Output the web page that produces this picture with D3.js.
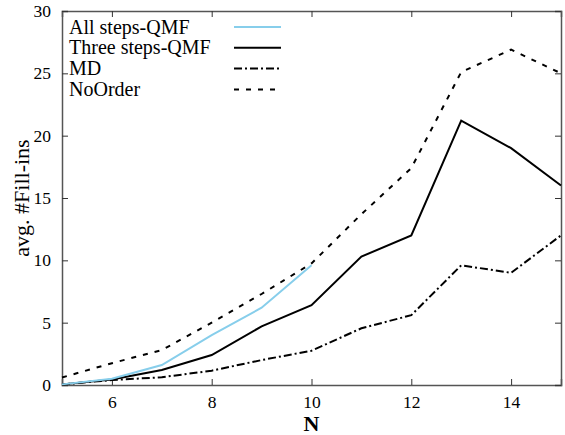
<!DOCTYPE html>
<meta charset="utf-8">
<style>
  body { margin: 0; background: #fff; }
</style>
<svg width="565" height="435" font-family="Liberation Serif"></svg>
<script src="https://d3js.org/d3.v7.min.js"></script>
<script>

var nValues = [5, 6, 7, 8, 9, 10, 11, 12, 13, 14, 15];
var allStepsQMF = [0.05, 0.5, 1.6, 4.0, 6.2, 9.6];
var threeStepsQMF = [0.05, 0.45, 1.2, 2.4, 4.7, 6.4, 10.3, 12.0, 21.2, 19.0, 16.0];
var md = [0.05, 0.4, 0.62, 1.15, 2.0, 2.75, 4.55, 5.6, 9.6, 9.0, 12.0];
var noOrder = [0.6, 1.75, 2.8, 5.0, 7.3, 9.75, 13.7, 17.4, 25.1, 26.9, 25.0];
var xTicks = [6, 8, 10, 12, 14];
var yTicks = [0, 5, 10, 15, 20, 25, 30];

var series = [
  {name: "All steps-QMF", values: allStepsQMF, color: "#87ceeb", dash: null},
  {name: "Three steps-QMF", values: threeStepsQMF, color: "#000", dash: null},
  {name: "MD", values: md, color: "#000", dash: "8,3,2,3"},
  {name: "NoOrder", values: noOrder, color: "#000", dash: "5,7"}
];

var font = "Liberation Serif";

var svg = d3.select("svg"),
    margin = {top: 11, right: 4, bottom: 50, left: 62},
    width = +svg.attr("width") - margin.left - margin.right,
    height = +svg.attr("height") - margin.top - margin.bottom;

var x = d3.scaleLinear().domain([5, 15]).range([0, width]);
var y = d3.scaleLinear().domain([0, 30]).range([height, 0]);

var g = svg.append("g").attr("transform", "translate(" + margin.left + "," + margin.top + ")");

// axes, with mirrored ticks on top and right
g.append("g")
    .attr("transform", "translate(0," + height + ")")
    .call(d3.axisBottom(x).tickValues(xTicks).tickSize(-6).tickPadding(11))
    .call(styleAxis);
g.append("g")
    .call(d3.axisTop(x).tickValues(xTicks).tickSize(-6).tickFormat(""))
    .call(styleAxis);
g.append("g")
    .call(d3.axisLeft(y).tickValues(yTicks).tickSize(-6).tickPadding(11))
    .call(styleAxis);
g.append("g")
    .attr("transform", "translate(" + width + ",0)")
    .call(d3.axisRight(y).tickValues(yTicks).tickSize(-6).tickFormat(""))
    .call(styleAxis);

function styleAxis(sel) {
  sel.attr("font-family", font).attr("font-size", 17.5);
  sel.select(".domain").attr("stroke", "#555").attr("stroke-width", 1.5);
  sel.selectAll(".tick line").attr("stroke", "#333").attr("stroke-width", 1);
  sel.selectAll(".tick text").attr("fill", "#000");
}

var line = d3.line()
    .x(function(d, i) { return x(nValues[i]); })
    .y(function(d) { return y(d); });

g.selectAll(".series")
  .data(series.slice().reverse())
  .enter().append("path")
    .attr("class", "series")
    .attr("fill", "none")
    .attr("stroke", function(d) { return d.color; })
    .attr("stroke-width", 2)
    .attr("stroke-dasharray", function(d) { return d.dash; })
    .attr("d", function(d) { return line(d.values); });

// legend
var legend = g.append("g").attr("transform", "translate(7,16)");
var item = legend.selectAll(".item")
  .data(series)
  .enter().append("g")
    .attr("transform", function(d, i) { return "translate(0," + (i * 20.8) + ")"; });
item.append("text")
    .attr("y", 6.5)
    .attr("font-family", font)
    .attr("font-size", 20)
    .text(function(d) { return d.name; });
item.append("line")
    .attr("x1", 165).attr("x2", 212)
    .attr("stroke", function(d) { return d.color; })
    .attr("stroke-width", 2)
    .attr("stroke-dasharray", function(d) { return d.dash; });

// axis titles
svg.append("text")
    .attr("transform", "translate(29," + (margin.top + height / 2) + ") rotate(-90)")
    .attr("text-anchor", "middle")
    .attr("font-family", font)
    .attr("font-size", 22)
    .text("avg. #Fill-ins");
svg.append("text")
    .attr("x", margin.left + width / 2)
    .attr("y", 431)
    .attr("text-anchor", "middle")
    .attr("font-family", font)
    .attr("font-size", 22)
    .attr("font-weight", "bold")
    .text("N");

</script>
